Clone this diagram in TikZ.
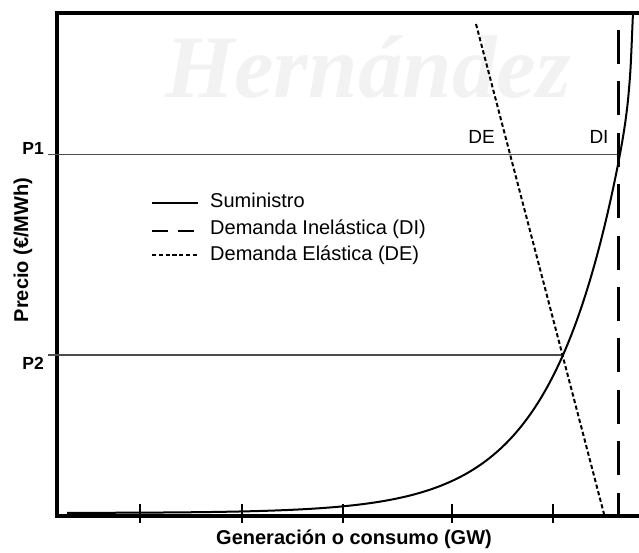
\documentclass[tikz,border=0pt]{standalone}
\usepackage{fontspec}
\setmainfont{Liberation Sans}
\newfontfamily\wmfont{Liberation Serif}
\begin{document}
\begin{tikzpicture}[x=1pt,y=-1pt,
  frame/.style={line width=3.2pt},
  tickmark/.style={line width=1.3pt},
  pline/.style={line width=1.4pt, draw=black!70},
  supply/.style={line width=2pt, line join=round},
  inelastic/.style={line width=2.6pt, dash pattern=on 34pt off 17.4pt},
  elastic/.style={line width=2pt, dash pattern=on 4.2pt off 2.6pt},
  lbl/.style={font=\fontsize{19}{22}\selectfont, inner sep=0pt},
  leg/.style={font=\fontsize{20}{24}\selectfont, inner sep=0pt, anchor=base west},
  axlbl/.style={font=\fontsize{20}{24}\selectfont\bfseries, inner sep=0pt},
  plbl/.style={font=\fontsize{17.5}{20}\selectfont\bfseries, inner sep=0pt, anchor=east},
  watermark/.style={text=black!5, font=\fontsize{89}{89}\selectfont\wmfont\bfseries\itshape, inner sep=0pt, anchor=base west}
]
\useasboundingbox (0,0) rectangle (639,553);
% watermark
\node[watermark] (wm) at (165,98) {Hernández};
% frame
\coordinate (tr) at (639,13);
\coordinate (tl) at (57,13);
\coordinate (bl) at (57,516);
\coordinate (br) at (639,516);
\draw[frame] (tr) -- (tl) -- (bl) -- (br);
% ticks
\foreach \i/\x in {1/140,2/242,3/343,4/452,5/553}{
  \coordinate (t\i a) at (\x,504);
  \coordinate (t\i b) at (\x,523);
  \draw[tickmark] (t\i a) -- (t\i b);
}
% price lines
\coordinate (p1l) at (48,154.5);
\coordinate (p1r) at (620,154.5);
\coordinate (p2l) at (48,355);
\coordinate (p2r) at (563,355);
\draw[pline] (p1l) -- (p1r);
\draw[pline] (p2l) -- (p2r);
% inelastic demand
\coordinate (dit) at (618.5,30);
\coordinate (dib) at (618.5,516);
\draw[inelastic] (dit) -- (dib);
% elastic demand
\coordinate (det) at (476,24);
\coordinate (deb) at (604,514);
\draw[elastic] (det) -- (deb);
% supply
\draw[supply] plot[domain=67:633, samples=240, smooth]
  (\x, {513 - 158*exp(0.01437*(\x-563)) - 69*exp(max(-30,0.367*(\x-633)))});
% labels
\node[lbl] (delbl) at (481.5,137) {DE};
\node[lbl] (dilbl) at (599,137) {DI};
\node[plbl] (p1) at (44,148) {P1};
\node[plbl] (p2) at (44,363) {P2};
\node[axlbl, rotate=90] (ylab) at (23,250) {Precio (€/MWh)};
\node[axlbl] (xlab) at (354,539) {Generación o consumo (GW)};
% legend
\coordinate (l1a) at (152,203); \coordinate (l1b) at (198,203);
\coordinate (l2a) at (152,231); \coordinate (l2b) at (195,231);
\coordinate (l3a) at (152,255); \coordinate (l3b) at (199,255);
\draw[supply] (l1a) -- (l1b);
\draw[line width=2pt, dash pattern=on 16pt off 10pt] (l2a) -- (l2b);
\draw[elastic, line width=1.8pt] (l3a) -- (l3b);
\node[leg] (leg1) at (210,208) {Suministro};
\node[leg] (leg2) at (210,235) {Demanda Inelástica (DI)};
\node[leg] (leg3) at (210,260) {Demanda Elástica (DE)};
\end{tikzpicture}
\end{document}
